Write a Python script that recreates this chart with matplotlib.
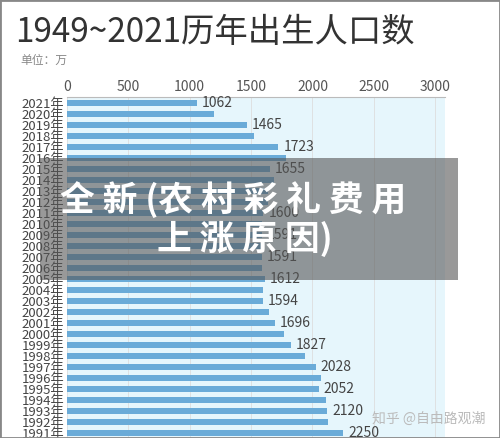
import matplotlib.pyplot as plt
import matplotlib.patches as patches

plt.rcParams['font.family'] = ['Noto Sans CJK SC', 'DejaVu Sans']

years = [f"{y}年" for y in range(2021, 1990, -1)]
values = [1062, 1200, 1465, 1523, 1723, 1786, 1655, 1687, 1640, 1635, 1600, 1592, 1591, 1608,
          1591, 1585, 1612, 1593, 1594, 1647, 1696, 1771, 1827, 1942, 2028, 2067, 2052, 2110,
          2120, 2125, 2250]
labeled = {"2021年", "2019年", "2017年", "2015年", "2011年", "2009年", "2007年", "2005年", "2003年",
           "2001年", "1999年", "1997年", "1995年", "1993年", "1991年"}
ticks = [0, 500, 1000, 1500, 2000, 2500, 3000]

fig = plt.figure(figsize=(5, 4.38), dpi=100)
ax = fig.add_axes([0.134, 0.0, 0.756, 0.778])
pos = list(range(len(years)))
for i in pos:
    ax.axhspan(i - 0.5, i + 0.5, color='#e6f6fc', zorder=0, lw=0)
ax.barh(pos, values, height=0.55, color='#6aabd8', zorder=2)
for i, (y, v) in enumerate(zip(years, values)):
    if y in labeled:
        ax.text(v + 40, i, str(v), va='center', ha='left', fontsize=10, color='#444444')
ax.set_xlim(0, 3080)
ax.set_ylim(30.45, -0.55)
ax.set_yticks(pos)
ax.set_yticklabels(years, fontsize=9.5, color='#444444')
ax.xaxis.tick_top()
ax.set_xticks(ticks)
ax.set_xticklabels([str(t) for t in ticks], fontsize=10, color='#555555')
ax.tick_params(axis='both', length=0, pad=2)
ax.grid(axis='x', color='#dddddd', lw=0.6, zorder=1)
for s in ['right', 'bottom', 'left']:
    ax.spines[s].set_visible(False)
ax.spines['top'].set_color('#bbbbbb')

fig.text(0.03, 0.925, "1949~2021历年出生人口数", fontsize=24, color='#333333', va='center',
         fontweight='medium')
fig.text(0.04, 0.862, "单位：万", fontsize=8.5, color='#888888', va='center')
fig.add_artist(patches.Rectangle((0, 0), 1, 1, transform=fig.transFigure, fill=False,
                                 ec='#888888', lw=2))
fig.add_artist(patches.Rectangle((0.08, 0.36), 0.836, 0.28, transform=fig.transFigure,
                                 color='#555555', alpha=0.6, lw=0, zorder=5))
fig.text(0.12, 0.545, "全 新 (农 村 彩 礼 费 用", fontsize=25, color='white', fontweight='bold',
         va='center', zorder=6)
fig.text(0.49, 0.455, "上 涨 原 因)", fontsize=25, color='white', fontweight='bold',
         va='center', ha='center', zorder=6)
fig.text(0.97, 0.045, "知乎 @自由路观潮", fontsize=10, color='#bbbbbb', ha='right', va='center')
fig.savefig("out.png", dpi=100)
